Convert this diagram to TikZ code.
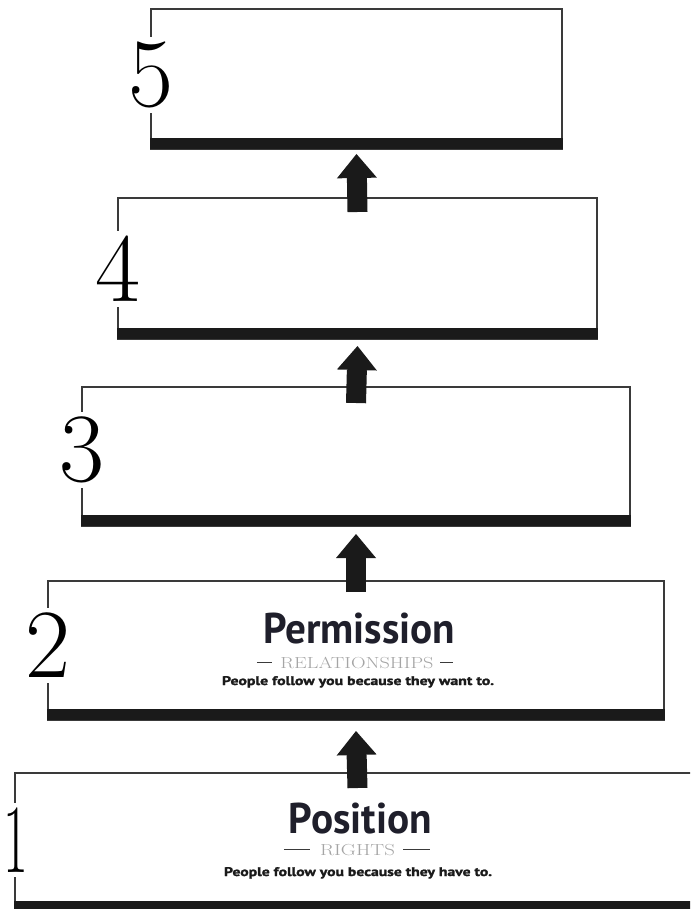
\documentclass[tikz,border=0pt]{standalone}
\usepackage{fontspec}
\usepackage{graphicx}
\usetikzlibrary{arrows.meta,calc}
\newfontfamily\ptsans{PT Sans}
\newfontfamily\heavysans{PT Sans}[BoldFeatures={FakeBold=1.6}]
\definecolor{edgecol}{HTML}{3A3A3A}
\definecolor{barcol}{HTML}{1A1A1A}
\definecolor{capgray}{HTML}{A5A5A5}
\definecolor{titlecol}{HTML}{1F1F2B}
\tikzset{
  levelbox/.style={draw=edgecol, line width=1.6pt, rectangle, inner sep=0pt, outer sep=0pt},
  levelbar/.style={fill=barcol},
  digit/.style={fill=white, inner xsep=1pt, inner ysep=5pt, text=black,
    font=\fontsize{98}{98}\selectfont},
  uparrow/.style={draw=barcol, line width=20pt,
    -{Triangle[length=24pt,width=40pt,line width=0pt]}},
  title/.style={inner sep=0pt, anchor=base, text=titlecol,
    font=\ptsans\bfseries\fontsize{43}{43}\selectfont},
  subtitle/.style={inner sep=0pt, anchor=base, text=capgray,
    font=\fontsize{16}{16}\selectfont},
  note/.style={inner sep=0pt, anchor=base, text=barcol,
    font=\heavysans\bfseries\fontsize{12.5}{12.5}\selectfont},
  dashmark/.style={draw=edgecol, line width=1.8pt}
}
\begin{document}
\begin{tikzpicture}[x=1pt,y=-1pt]
\useasboundingbox (0,0) rectangle (690,909);
\clip (0,0) rectangle (690,909);

% level boxes
\node[levelbox, minimum width=411pt, minimum height=140pt] (b5) at (356.5,79) {};
\node[levelbox, minimum width=479pt, minimum height=141pt] (b4) at (357.5,268.5) {};
\node[levelbox, minimum width=548pt, minimum height=139pt] (b3) at (356,456.5) {};
\node[levelbox, minimum width=616pt, minimum height=139pt] (b2) at (356,650.5) {};
\node[levelbox, minimum width=685pt, minimum height=139pt] (b1) at (357.5,842.5) {};

% thick bottom bars
\foreach \b in {b5,b4,b3,b2,b1}{
  \fill[levelbar] ($(\b.south west)+(-0.8,0)$) rectangle ($(\b.south east)+(0.8,-11)$);
}

% numerals
\node[digit] (n5) at ($(b5.north west)+(0,66)$) {5};
\node[digit] (n4) at ($(b4.north west)+(0,71)$) {4};
\node[digit] (n3) at ($(b3.north west)+(0,63)$) {3};
\node[digit] (n2) at ($(b2.north west)+(0,64.5)$) {2};
\node[digit] (n1) at ($(b1.north west)+(0.5,67)$) {\scalebox{0.55}[1]{1}};

% arrows
\draw[uparrow] ($(b4.north)+(0,14)$) -- ($(b5.south)+(0,5)$);
\draw[uparrow] ($(b3.north)+(0,16)$) -- ($(b4.south)+(0,7)$);
\draw[uparrow] ($(b2.north)+(0,11)$) -- ($(b3.south)+(0,8)$);
\draw[uparrow] ($(b1.north)+(0,15)$) -- ($(b2.south)+(0,11)$);

% level 2 text
\node[title] (t2) at (359,643) {\resizebox{192pt}{\height}{Permission}};
\node[subtitle] (s2) at (357,668) {\resizebox{153pt}{\height}{RELATIONSHIPS}};
\draw[dashmark] ($(s2.base west)+(-23.5,-5.5)$) -- ($(s2.base west)+(-8.5,-5.5)$);
\draw[dashmark] ($(s2.base east)+(6.5,-5.5)$) -- ($(s2.base east)+(19.5,-5.5)$);
\node[note] (p2) at (358,685) {\resizebox{272pt}{\height}{People follow you because they want to.}};

% level 1 text
\node[title] (t1) at (360.5,833) {\resizebox{143pt}{\height}{Position}};
\node[subtitle] (s1) at (357.5,855) {\resizebox{75pt}{\height}{RIGHTS}};
\draw[dashmark] ($(s1.base west)+(-36,-5.5)$) -- ($(s1.base west)+(-10,-5.5)$);
\draw[dashmark] ($(s1.base east)+(8,-5.5)$) -- ($(s1.base east)+(35,-5.5)$);
\node[note] (p1) at (358,876) {\resizebox{268pt}{\height}{People follow you because they have to.}};
\end{tikzpicture}
\end{document}
